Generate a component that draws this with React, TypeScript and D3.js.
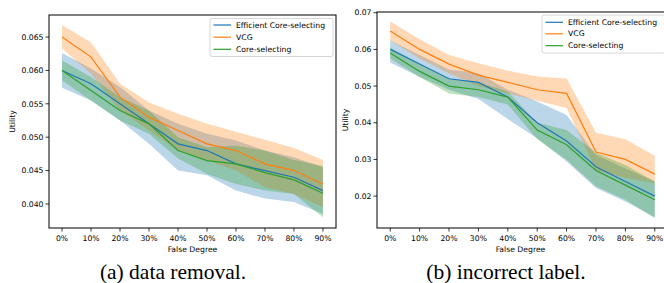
import React from "react";
import * as d3 from "d3";

const xLabels = ["0%", "10%", "20%", "30%", "40%", "50%", "60%", "70%", "80%", "90%"];
const seriesNames = ["Efficient Core-selecting", "VCG", "Core-selecting"];
const colors = ["#1f77b4", "#ff7f0e", "#2ca02c"];

// Panel (a) data removal
const aEffMean = [0.060, 0.058, 0.055, 0.052, 0.049, 0.048, 0.046, 0.045, 0.044, 0.042];
const aEffLow = [0.0574, 0.0555, 0.0525, 0.049, 0.045, 0.0443, 0.042, 0.0408, 0.0403, 0.0385];
const aEffHigh = [0.0626, 0.0603, 0.0575, 0.054, 0.052, 0.0505, 0.0495, 0.048, 0.047, 0.0455];
const aVcgMean = [0.065, 0.062, 0.056, 0.053, 0.051, 0.049, 0.048, 0.046, 0.045, 0.043];
const aVcgLow = [0.0633, 0.0595, 0.054, 0.051, 0.048, 0.0465, 0.045, 0.0425, 0.0415, 0.0395];
const aVcgHigh = [0.0668, 0.0642, 0.058, 0.0552, 0.0535, 0.052, 0.0508, 0.0496, 0.0484, 0.0466];
const aCoreMean = [0.060, 0.057, 0.054, 0.052, 0.048, 0.0465, 0.046, 0.0447, 0.0436, 0.0416];
const aCoreLow = [0.0585, 0.0555, 0.0525, 0.0505, 0.0468, 0.0445, 0.043, 0.042, 0.0415, 0.038];
const aCoreHigh = [0.0615, 0.059, 0.056, 0.054, 0.050, 0.0485, 0.0487, 0.048, 0.0466, 0.0457];
const aTicks = [0.040, 0.045, 0.050, 0.055, 0.060, 0.065];

// Panel (b) incorrect label
const bEffMean = [0.060, 0.056, 0.052, 0.051, 0.047, 0.040, 0.035, 0.028, 0.024, 0.020];
const bEffLow = [0.0564, 0.0525, 0.049, 0.0465, 0.041, 0.0358, 0.0294, 0.0222, 0.0185, 0.0142];
const bEffHigh = [0.0625, 0.0585, 0.0545, 0.0535, 0.049, 0.0458, 0.0421, 0.0312, 0.0275, 0.024];
const bVcgMean = [0.065, 0.060, 0.056, 0.053, 0.051, 0.049, 0.048, 0.032, 0.030, 0.026];
const bVcgLow = [0.0625, 0.0575, 0.0535, 0.050, 0.048, 0.046, 0.044, 0.027, 0.025, 0.0235];
const bVcgHigh = [0.0676, 0.0628, 0.0585, 0.0562, 0.0542, 0.0526, 0.0521, 0.0373, 0.0355, 0.031];
const bCoreMean = [0.059, 0.054, 0.050, 0.049, 0.047, 0.038, 0.034, 0.027, 0.023, 0.019];
const bCoreLow = [0.0575, 0.0525, 0.048, 0.047, 0.045, 0.0355, 0.0299, 0.0226, 0.019, 0.014];
const bCoreHigh = [0.0605, 0.056, 0.052, 0.051, 0.0485, 0.040, 0.038, 0.0318, 0.0285, 0.024];
const bTicks = [0.02, 0.03, 0.04, 0.05, 0.06, 0.07];

type Series = { mean: number[]; low: number[]; high: number[] };

const FONT = "DejaVu Sans";
const FS = 7.7;

function Panel(props: {
  left: number; right: number; top: number; bottom: number;
  yDomain: [number, number]; yTicks: number[]; yFmt: (v: number) => string;
  series: Series[]; legendRows: number[]; legendTop: number; legendBottom: number;
  caption: string; captionX: number; yLabelX: number;
}) {
  const { left, right, top, bottom, yDomain, yTicks, yFmt, series } = props;
  const x = d3.scaleLinear().domain([-0.45, 9.45]).range([left, right]);
  const y = d3.scaleLinear().domain(yDomain).range([bottom, top]);
  const idx = d3.range(xLabels.length);
  const line = d3.line<number>().x((i) => x(i));
  const cx = (left + Math.min(right, 664)) / 2;
  const lgRight = right - 3;
  const lgLeft = lgRight - 123;
  return (
    <g>
      {series.map((s, k) => {
        const area = d3.area<number>().x((i) => x(i)).y0((i) => y(s.low[i])).y1((i) => y(s.high[i]));
        return <path key={"a" + k} d={area(idx) || ""} fill={colors[k]} fillOpacity={0.3} stroke="none" />;
      })}
      {series.map((s, k) => (
        <path key={"l" + k} d={line.y((i) => y(s.mean[i]))(idx) || ""} fill="none" stroke={colors[k]} strokeWidth={1.2} />
      ))}
      <rect x={left} y={top} width={right - left} height={bottom - top} fill="none" stroke="#000" strokeWidth={1} />
      {yTicks.map((t) => (
        <g key={"y" + t}>
          <line x1={left - 3.5} x2={left} y1={y(t)} y2={y(t)} stroke="#000" strokeWidth={0.8} />
          <text x={left - 5.5} y={y(t)} dy="0.35em" textAnchor="end" fontFamily={FONT} fontSize={FS} fill="#000">{yFmt(t)}</text>
        </g>
      ))}
      {xLabels.map((lab, i) => (
        <g key={"x" + i}>
          <line x1={x(i)} x2={x(i)} y1={bottom} y2={bottom + 3.5} stroke="#000" strokeWidth={0.8} />
          <text x={x(i)} y={bottom + 13} textAnchor="middle" fontFamily={FONT} fontSize={FS} fill="#000">{lab}</text>
        </g>
      ))}
      <text x={cx} y={bottom + 24} textAnchor="middle" fontFamily={FONT} fontSize={FS} fill="#000">False Degree</text>
      <text transform={`translate(${props.yLabelX + 2.7},${(top + bottom) / 2}) rotate(-90)`} textAnchor="middle" fontFamily={FONT} fontSize={FS} fill="#000">Utility</text>
      <rect x={lgLeft} y={props.legendTop} width={123} height={props.legendBottom - props.legendTop} rx={2} fill="#fff" fillOpacity={0.8} stroke="#ccc" strokeWidth={0.8} />
      {seriesNames.map((n, k) => (
        <g key={"lg" + k}>
          <line x1={lgLeft + 3.5} x2={lgLeft + 21} y1={props.legendRows[k]} y2={props.legendRows[k]} stroke={colors[k]} strokeWidth={1.2} />
          <text x={lgLeft + 26} y={props.legendRows[k]} dy="0.35em" fontFamily={FONT} fontSize={FS} fill="#000">{n}</text>
        </g>
      ))}
      <text x={props.captionX} y={279} textAnchor="middle" fontFamily="Liberation Serif" fontSize={21.5} fill="#000">{props.caption}</text>
    </g>
  );
}

export default function App() {
  const aSeries: Series[] = [
    { mean: aEffMean, low: aEffLow, high: aEffHigh },
    { mean: aVcgMean, low: aVcgLow, high: aVcgHigh },
    { mean: aCoreMean, low: aCoreLow, high: aCoreHigh },
  ];
  const bSeries: Series[] = [
    { mean: bEffMean, low: bEffLow, high: bEffHigh },
    { mean: bVcgMean, low: bVcgLow, high: bVcgHigh },
    { mean: bCoreMean, low: bCoreLow, high: bCoreHigh },
  ];
  return (
    <div style={{ position: "absolute", left: 0, top: 0 }}>
      <svg width={664} height={283} style={{ display: "block", background: "#fff" }}>
        <rect width={664} height={283} fill="#fff" />
        <Panel left={49} right={336} top={15} bottom={228} yDomain={[0.0364, 0.0683]} yTicks={aTicks}
          yFmt={(v) => v.toFixed(3)} series={aSeries} legendRows={[25, 37.2, 49.3]} legendTop={18.5} legendBottom={56.5}
          caption="(a) data removal." captionX={173} yLabelX={12} />
        <Panel left={377} right={668} top={12} bottom={228} yDomain={[0.0113, 0.0702]} yTicks={bTicks}
          yFmt={(v) => v.toFixed(2)} series={bSeries} legendRows={[22.3, 33.8, 45.7]} legendTop={15} legendBottom={53}
          caption="(b) incorrect label." captionX={506} yLabelX={345} />
      </svg>
    </div>
  );
}
